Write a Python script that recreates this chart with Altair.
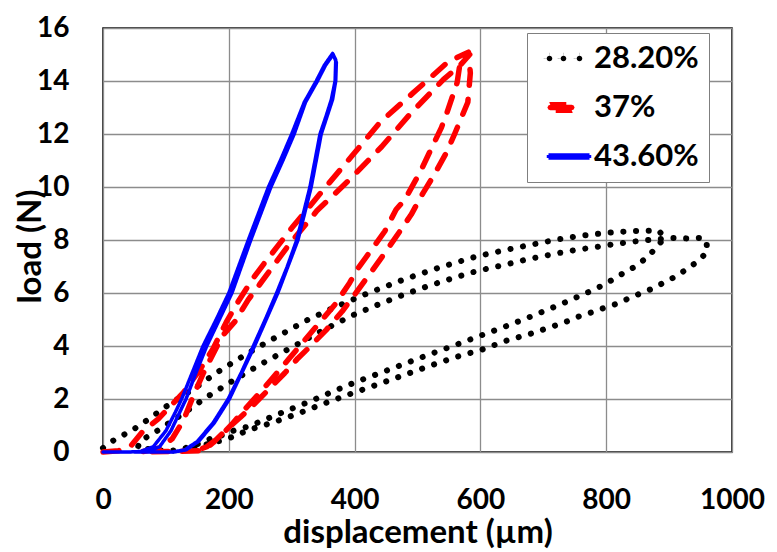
import altair as alt
import pandas as pd

# ---------------- data ----------------
series_names = ["28.20%", "37%", "43.60%"]
series_colors = ["#000000", "#ff0000", "#0000ff"]

x_ticks = [0, 200, 400, 600, 800, 1000]
y_ticks = [0, 2, 4, 6, 8, 10, 12, 14, 16]

# 28.20 % : two load/unload cycles
black_x = [0, 7, 24, 43, 61, 77, 95, 112, 146, 181, 216, 252, 288, 324, 361, 400, 419, 477, 537, 597, 657, 718, 759, 801, 842, 883,
           893, 877, 863, 847, 828, 810, 792, 774, 755, 736, 717, 679, 639, 600, 562, 522, 484, 445, 404, 365, 328, 289, 250, 231, 210, 191, 173, 150, 125, 105,
           55, 59, 76, 93, 118, 145, 162, 180, 214, 250, 300, 350, 397, 436, 474, 513, 552, 593, 632, 673, 714, 755, 775, 815, 857, 880, 900, 929, 949, 959,
           961, 946, 929, 912, 893, 875, 855, 836, 818, 797, 778, 758, 739, 720, 681, 640, 602, 562, 522, 484, 445, 404, 386, 346, 309, 270, 231, 210, 191, 170, 150, 130]
black_y = [0.15, 0.3, 0.54, 0.77, 1.05, 1.31, 1.63, 1.9, 2.41, 3.0, 3.52, 4.03, 4.5, 4.97, 5.38, 5.78, 5.97, 6.5, 6.98, 7.4, 7.71, 8.0, 8.16, 8.27, 8.34, 8.36,
           8.1, 7.64, 7.31, 7.01, 6.76, 6.5, 6.26, 6.06, 5.86, 5.66, 5.47, 5.10, 4.73, 4.39, 4.05, 3.71, 3.37, 3.02, 2.66, 2.28, 1.9, 1.53, 1.15, 0.96, 0.83, 0.64, 0.52, 0.3, 0.1, 0.03,
           0.15, 0.42, 0.65, 0.9, 1.3, 1.74, 2.03, 2.3, 2.8, 3.3, 3.95, 4.6, 5.16, 5.55, 5.9, 6.23, 6.53, 6.82, 7.03, 7.26, 7.46, 7.64, 7.7, 7.85, 7.98, 8.02, 8.08, 8.06, 8.08, 8.0,
           7.56, 7.2, 6.92, 6.64, 6.41, 6.18, 5.99, 5.8, 5.6, 5.44, 5.28, 5.13, 4.94, 4.78, 4.47, 4.19, 3.86, 3.59, 3.27, 2.95, 2.62, 2.28, 2.13, 1.78, 1.44, 1.11, 0.83, 0.6, 0.45, 0.33, 0.18, 0.05]

# 37 %
red_x = [0, 25, 45, 64, 88, 106, 128, 154, 175, 196, 215, 239, 257, 300, 348, 395, 440, 493, 549, 581,
         584, 580, 559, 546, 527, 509, 490, 472, 448, 429, 405, 380, 355, 330, 310, 289, 260, 240, 218, 194, 175, 160,
         60, 90, 110, 128, 145, 160, 175, 189, 210, 231, 249, 294, 340, 393, 443, 490, 541, 568, 583,
         567, 563, 546, 538, 519, 505, 480, 466, 448, 429, 406, 392, 370, 345, 320, 295, 270, 248, 225, 205, 185, 165, 145]
red_y = [0, 0.05, 0.25, 0.8, 1.25, 1.7, 2.25, 3.1, 3.9, 4.9, 5.68, 6.57, 7.14, 8.45, 9.83, 11.15, 12.43, 13.55, 14.73, 15.09,
         14.3, 13.2, 12.0, 11.3, 10.48, 9.78, 8.96, 8.33, 7.51, 6.88, 6.1, 5.3, 4.61, 4.0, 3.54, 2.98, 2.28, 1.8, 1.3, 0.8, 0.35, 0.05,
         0.0, 0.15, 0.5, 1.2, 2.2, 3.0, 3.7, 4.36, 4.93, 5.75, 6.32, 7.77, 9.1, 10.3, 11.52, 12.8, 14.05, 14.6, 15.0,
         14.57, 13.94, 12.75, 12.24, 11.3, 10.6, 9.53, 9.15, 8.33, 7.7, 6.95, 6.38, 5.6, 4.9, 4.2, 3.5, 2.8, 2.2, 1.6, 1.05, 0.55, 0.2, 0.02]

# 43.60 %
blue_x = [0, 40, 60, 80, 100, 115, 125, 142, 159, 180, 200, 231, 263, 282, 300, 320, 339, 352, 365,
          370, 369, 363, 355, 345, 329, 308, 293, 276, 258, 239, 220, 199, 175, 150, 130, 110,
          50, 72, 90, 108, 122, 132, 148, 165, 185, 205, 235, 267, 286, 304, 322, 341, 354, 366,
          371, 370, 365, 347, 331, 310, 278, 241, 201, 177, 152, 132, 112]
blue_y = [0, 0, 0.02, 0.2, 0.8, 1.5, 2.0, 3.0, 4.0, 5.0, 6.0, 8.0, 10.0, 11.0, 12.0, 13.2, 14.0, 14.6, 15.04,
          14.8, 14.0, 13.3, 12.7, 12.0, 10.0, 8.0, 7.0, 6.0, 5.0, 4.0, 3.0, 2.0, 1.1, 0.4, 0.08, 0.0,
          0.0, 0.03, 0.2, 0.8, 1.5, 2.0, 3.0, 4.0, 5.0, 6.0, 8.0, 10.0, 11.0, 12.0, 13.2, 14.0, 14.6, 15.0,
          14.7, 14.0, 13.3, 12.0, 10.0, 8.0, 6.0, 4.0, 2.0, 1.1, 0.4, 0.08, 0.0]

rows = []
for name, xs, ys in zip(series_names, [black_x, red_x, blue_x], [black_y, red_y, blue_y]):
    for i, (xv, yv) in enumerate(zip(xs, ys)):
        rows.append({"series": name, "idx": i, "x": xv, "y": yv})
df = pd.DataFrame(rows)

# ---------------- styles ----------------
FONT = "Lato"
series_dash = [[0.1, 12.6], [16, 14], [1, 0]]
series_width = [6, 5.5, 3.5]
# legend glyphs (unit coordinates, scaled by the legend symbol size)
legend_glyphs = [
    "M-2.18,0a0.28,0.28 0 1,0 0.56,0a0.28,0.28 0 1,0 -0.56,0Z"
    "M-0.78,0a0.28,0.28 0 1,0 0.56,0a0.28,0.28 0 1,0 -0.56,0Z"
    "M0.82,0a0.28,0.28 0 1,0 0.56,0a0.28,0.28 0 1,0 -0.56,0Z",
    "M-1.82,-0.28H0.32L0.52,-0.2L0.6,0L0.52,0.2L0.32,0.28H-1.82L-2.02,0.2L-2.1,0L-2.02,-0.2Z",
    "M-2,-0.15H2.1V0.15H-2Z",
]

legend = alt.Legend(
    title=None, orient="none", legendX=424, legendY=5, padding=10,
    strokeColor="#7f7f7f", fillColor="white",
    labelFont=FONT, labelFontSize=31, labelFontWeight="bold", labelColor="black",
    symbolSize=400, symbolOffset=16, labelOffset=10, rowPadding=17,
    symbolOpacity=1, symbolStrokeWidth=0,
)

x_enc = alt.X("x:Q", scale=alt.Scale(domain=[0, 1000], nice=False),
              axis=alt.Axis(values=x_ticks, format="d", title="displacement (µm)", labelFlush=False,
                            labelBaseline="alphabetic", labelPadding=56,
                            titleBaseline="alphabetic", titleX=314.5, titleY=90))
y_enc = alt.Y("y:Q", scale=alt.Scale(domain=[0, 16], nice=False),
              axis=alt.Axis(values=y_ticks, title="load (N)", labelFlush=False, labelPadding=34,
                            titleBaseline="alphabetic", titleAngle=270, titleX=-63, titleY=218))
color_scale = alt.Scale(domain=series_names, range=series_colors)

# invisible points: they only carry the legend glyphs
legend_points = alt.Chart(df).mark_point(filled=True, opacity=0).encode(
    x=x_enc, y=y_enc,
    color=alt.Color("series:N", scale=color_scale, legend=legend),
    shape=alt.Shape("series:N", scale=alt.Scale(domain=series_names, range=legend_glyphs), legend=legend),
)

lines = alt.Chart(df).mark_line(strokeCap="round", strokeJoin="round").encode(
    x=x_enc, y=y_enc,
    color=alt.Color("series:N", scale=color_scale, legend=None),
    strokeDash=alt.StrokeDash("series:N", scale=alt.Scale(domain=series_names, range=series_dash), legend=None),
    strokeWidth=alt.StrokeWidth("series:N", scale=alt.Scale(type="ordinal", domain=series_names, range=series_width), legend=None),
    order=alt.Order("idx:Q"),
)

chart = alt.layer(legend_points, lines).properties(
    width=629, height=424,
    autosize=alt.AutoSizeParams(type="none"),
    padding={"left": 95, "top": 20, "right": 37, "bottom": 100},
    background="white",
).configure_view(
    stroke="#000000", strokeWidth=1.5,
).configure_axis(
    labelFont=FONT, labelFontSize=28, labelFontWeight="bold", labelColor="black",
    titleFont=FONT, titleFontSize=33, titleFontWeight="bold", titleColor="black",
    ticks=False, domain=False, grid=True, gridColor="#8c8c8c", gridWidth=1.3,
    labelOverlap=False, labelBound=False,
)

chart.save("out.html", embed_options={"renderer": "svg", "actions": False})
